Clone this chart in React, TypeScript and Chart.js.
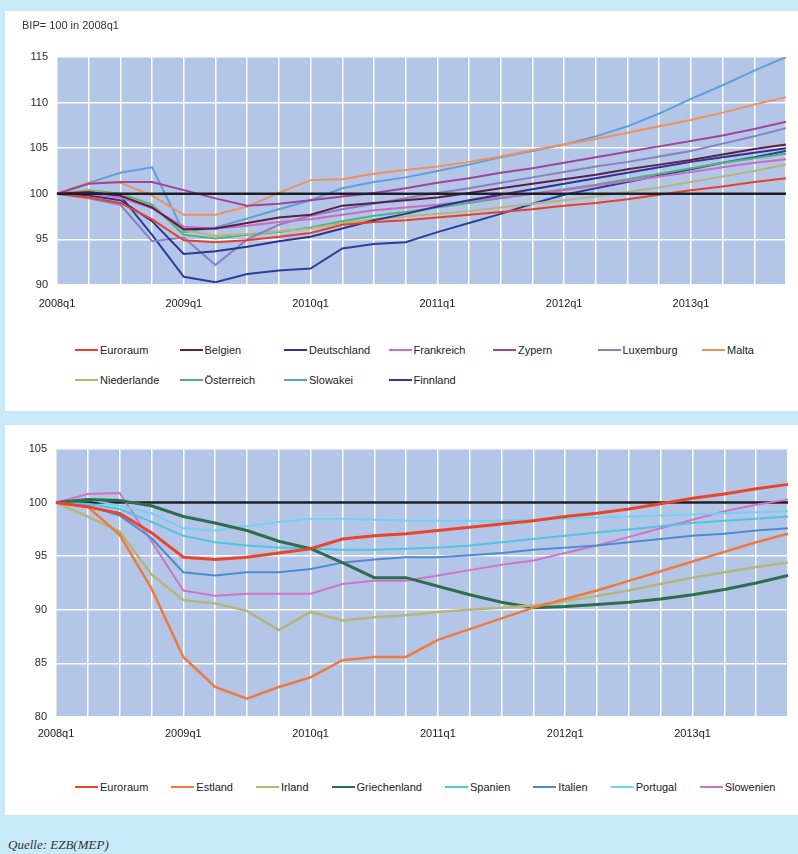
import React, { useEffect, useRef } from 'react';
import { Chart, registerables } from 'chart.js';

Chart.register(...registerables);
Chart.defaults.font.family = '"Liberation Sans", Arial, sans-serif';

const quarters = [
  '2008q1', '2008q2', '2008q3', '2008q4',
  '2009q1', '2009q2', '2009q3', '2009q4',
  '2010q1', '2010q2', '2010q3', '2010q4',
  '2011q1', '2011q2', '2011q3', '2011q4',
  '2012q1', '2012q2', '2012q3', '2012q4',
  '2013q1', '2013q2', '2013q3', '2013q4',
];

const topTitle = 'BIP= 100 in 2008q1';
const sourceNote = 'Quelle: EZB(MEP)';

// ---- upper panel series ----
const euroraum = [100, 99.6, 99.0, 97.2, 94.9, 94.7, 94.9, 95.3, 95.7, 96.6, 96.9, 97.1, 97.4, 97.7, 98.0, 98.3, 98.7, 99.0, 99.4, 99.9, 100.4, 100.8, 101.3, 101.7];
const belgien = [100, 100.2, 99.8, 98.5, 96.1, 96.2, 96.8, 97.4, 97.7, 98.7, 99.0, 99.3, 99.6, 100.1, 100.6, 101.1, 101.6, 102.1, 102.7, 103.2, 103.7, 104.3, 104.9, 105.4];
const deutschland = [100, 99.8, 99.3, 97.0, 93.4, 93.7, 94.2, 94.8, 95.3, 96.2, 97.1, 97.8, 98.6, 99.3, 99.9, 100.5, 101.1, 101.7, 102.3, 102.9, 103.5, 104.0, 104.5, 105.0];
const frankreich = [100, 100.0, 99.6, 98.4, 96.4, 96.2, 96.5, 96.9, 97.2, 97.7, 98.2, 98.5, 98.8, 99.2, 99.6, 100.0, 100.4, 100.9, 101.4, 101.9, 102.4, 102.9, 103.4, 103.8];
const zypern = [100, 101.1, 101.3, 101.3, 100.4, 99.5, 98.7, 98.9, 99.3, 99.7, 100.1, 100.6, 101.2, 101.7, 102.3, 102.8, 103.4, 104.0, 104.6, 105.2, 105.8, 106.4, 107.1, 107.9];
const luxemburg = [100, 99.5, 98.8, 94.8, 95.2, 92.2, 95.0, 96.6, 97.6, 98.3, 98.9, 99.5, 100.1, 100.6, 101.2, 101.8, 102.4, 103.0, 103.5, 104.1, 104.7, 105.5, 106.3, 107.2];
const malta = [100, 101.2, 101.2, 99.8, 97.7, 97.7, 98.6, 100.1, 101.5, 101.6, 102.2, 102.6, 103.0, 103.5, 104.1, 104.8, 105.4, 106.0, 106.7, 107.4, 108.1, 108.9, 109.8, 110.6];
const niederlande = [100, 100.3, 99.9, 98.6, 96.0, 95.4, 95.6, 95.9, 96.2, 96.8, 97.2, 97.5, 97.8, 98.1, 98.5, 98.9, 99.3, 99.7, 100.2, 100.7, 101.3, 101.9, 102.5, 103.2];
const oesterreich = [100, 100.4, 100.0, 98.8, 95.5, 95.1, 95.5, 95.8, 96.3, 97.0, 97.6, 98.0, 98.5, 99.0, 99.5, 100.0, 100.5, 101.0, 101.6, 102.2, 102.8, 103.4, 103.9, 104.4];
const slowakei = [100, 101.2, 102.3, 102.9, 95.8, 96.3, 97.3, 98.3, 99.3, 100.6, 101.3, 101.8, 102.5, 103.2, 104.0, 104.7, 105.4, 106.3, 107.4, 108.8, 110.4, 111.9, 113.5, 115.0];
const finnland = [100, 100.1, 99.8, 95.5, 90.9, 90.3, 91.2, 91.6, 91.8, 94.0, 94.5, 94.7, 95.8, 96.8, 97.8, 98.9, 99.9, 100.6, 101.3, 102.0, 102.7, 103.4, 104.0, 104.7];

// ---- lower panel series ----
const estland = [100, 99.6, 97.0, 92.0, 85.6, 82.8, 81.7, 82.8, 83.7, 85.3, 85.6, 85.6, 87.2, 88.2, 89.2, 90.2, 91.0, 91.8, 92.7, 93.6, 94.5, 95.4, 96.3, 97.1];
const irland = [100, 98.7, 97.3, 93.3, 90.9, 90.6, 89.9, 88.1, 89.8, 89.0, 89.3, 89.5, 89.8, 90.0, 90.2, 90.4, 90.8, 91.3, 91.8, 92.4, 93.0, 93.5, 94.0, 94.4];
const griechenland = [100, 100.3, 100.2, 99.7, 98.7, 98.1, 97.4, 96.4, 95.7, 94.4, 93.0, 93.0, 92.2, 91.4, 90.7, 90.2, 90.3, 90.5, 90.7, 91.0, 91.4, 91.9, 92.5, 93.2];
const spanien = [100, 99.9, 99.4, 98.2, 96.9, 96.3, 96.0, 95.8, 95.7, 95.6, 95.6, 95.7, 95.8, 96.0, 96.3, 96.6, 96.9, 97.2, 97.5, 97.8, 98.1, 98.3, 98.5, 98.7];
const italien = [100, 99.7, 98.8, 96.7, 93.5, 93.2, 93.5, 93.5, 93.8, 94.4, 94.7, 94.9, 94.9, 95.1, 95.3, 95.6, 95.8, 96.0, 96.3, 96.6, 96.9, 97.1, 97.4, 97.6];
const portugal = [100, 100.3, 99.7, 99.0, 97.6, 97.4, 97.8, 98.2, 98.5, 98.5, 98.4, 98.3, 98.3, 98.3, 98.3, 98.4, 98.5, 98.6, 98.7, 98.8, 98.9, 99.0, 99.1, 99.2];
const slowenien = [100, 100.8, 100.9, 96.4, 91.8, 91.3, 91.5, 91.5, 91.5, 92.4, 92.7, 92.7, 93.2, 93.7, 94.2, 94.6, 95.3, 96.0, 96.8, 97.6, 98.4, 99.2, 99.8, 100.3];

type Series = { name: string; data: number[]; color: string; width?: number };

const topSeries: Series[] = [
  { name: 'Euroraum', data: euroraum, color: '#e8402a' },
  { name: 'Belgien', data: belgien, color: '#5c1f48' },
  { name: 'Deutschland', data: deutschland, color: '#2f3290' },
  { name: 'Frankreich', data: frankreich, color: '#c86cc4' },
  { name: 'Zypern', data: zypern, color: '#a0459c' },
  { name: 'Luxemburg', data: luxemburg, color: '#8a7fc4' },
  { name: 'Malta', data: malta, color: '#f0915a' },
  { name: 'Niederlande', data: niederlande, color: '#b8b47a' },
  { name: 'Österreich', data: oesterreich, color: '#4cb47c' },
  { name: 'Slowakei', data: slowakei, color: '#5f9fd8' },
  { name: 'Finnland', data: finnland, color: '#2c3f98' },
];

const bottomSeries: Series[] = [
  { name: 'Euroraum', data: euroraum, color: '#e8452a', width: 3 },
  { name: 'Estland', data: estland, color: '#ee7a3e', width: 2.5 },
  { name: 'Irland', data: irland, color: '#b6b67a', width: 2.5 },
  { name: 'Griechenland', data: griechenland, color: '#2f6e4c', width: 3 },
  { name: 'Spanien', data: spanien, color: '#4ec4e0' },
  { name: 'Italien', data: italien, color: '#4d8bd0' },
  { name: 'Portugal', data: portugal, color: '#74d2ee' },
  { name: 'Slowenien', data: slowenien, color: '#d074c6' },
];

const plotBg = {
  id: 'plotBg',
  beforeDraw(chart: any, _args: any, opts: any) {
    const { ctx, chartArea } = chart;
    ctx.save();
    ctx.fillStyle = opts.color || '#b4c6e7';
    ctx.fillRect(chartArea.left, chartArea.top, chartArea.right - chartArea.left, chartArea.bottom - chartArea.top);
    ctx.restore();
  },
};

function drawRef(chart: any, opts: any) {
  const { ctx, chartArea } = chart;
  const y = chart.scales.y.getPixelForValue(opts.value);
  ctx.save();
  ctx.strokeStyle = opts.color;
  ctx.lineWidth = opts.width;
  ctx.beginPath();
  ctx.moveTo(chartArea.left, y);
  ctx.lineTo(chartArea.right, y);
  ctx.stroke();
  ctx.restore();
}

const refLine = {
  id: 'refLine',
  beforeDatasetsDraw(chart: any, _a: any, opts: any) {
    if (!opts.above) drawRef(chart, opts);
  },
  afterDatasetsDraw(chart: any, _a: any, opts: any) {
    if (opts.above) drawRef(chart, opts);
  },
};

type ChartProps = {
  series: Series[];
  yMin: number;
  yMax: number;
  width: number;
  height: number;
  yAxisWidth: number;
  padding: { top: number; right: number; bottom: number; left: number };
  labelPad: number;
  refAbove: boolean;
};

function LineChart(props: ChartProps) {
  const ref = useRef<HTMLCanvasElement>(null);
  useEffect(() => {
    const { series, yMin, yMax, yAxisWidth, padding, labelPad, refAbove } = props;
    const chart = new Chart(ref.current as HTMLCanvasElement, {
      type: 'line',
      data: {
        labels: quarters,
        datasets: series.map((s) => ({
          label: s.name,
          data: s.data,
          borderColor: s.color,
          backgroundColor: s.color,
          borderWidth: s.width ?? 2,
          pointRadius: 0,
          tension: 0,
          fill: false,
        })),
      },
      options: {
        responsive: false,
        animation: false,
        layout: { padding },
        plugins: {
          legend: { display: false },
          tooltip: { enabled: false },
          plotBg: { color: '#b4c6e7' },
          refLine: { value: 100, color: '#1e1e24', width: 2.5, above: refAbove },
        } as any,
        scales: {
          x: {
            grid: { color: 'rgba(255,255,255,0.95)', lineWidth: 1.5, drawTicks: false },
            border: { display: false },
            ticks: {
              autoSkip: false,
              maxRotation: 0,
              minRotation: 0,
              padding: labelPad,
              color: '#1a1a1a',
              font: { size: 11 },
              callback: (_v: any, i: number) => (i % 4 === 0 ? quarters[i] : ''),
            },
            afterFit: (s: any) => {
              s.height = 26;
            },
          },
          y: {
            min: yMin,
            max: yMax,
            grid: { color: 'rgba(255,255,255,0.95)', lineWidth: 1.5, drawTicks: false },
            border: { display: false },
            ticks: { stepSize: 5, padding: 9, color: '#2a2a2a', font: { size: 11 } },
            afterFit: (s: any) => {
              s.width = yAxisWidth;
            },
          },
        },
      },
      plugins: [plotBg, refLine],
    });
    return () => chart.destroy();
  }, []);
  return <canvas ref={ref} width={props.width} height={props.height} style={{ display: 'block' }} />;
}

function LegendItem({ s }: { s: Series }) {
  return (
    <div style={{ display: 'flex', alignItems: 'center', height: 14, whiteSpace: 'nowrap' }}>
      <span style={{ display: 'inline-block', width: 23, height: 2, background: s.color }} />
      <span style={{ marginLeft: 2, fontSize: 11, color: '#222', lineHeight: '14px' }}>{s.name}</span>
    </div>
  );
}

const font = '"Liberation Sans", Arial, sans-serif';

export default function App() {
  return (
    <div style={{ position: 'absolute', left: 0, top: 0, width: 798, height: 854, background: '#c7e9f8', overflow: 'hidden', fontFamily: font }}>
      {/* upper panel */}
      <div style={{ position: 'absolute', left: 5, top: 11, width: 793, height: 400, background: '#ffffff' }}>
        <LineChart
          series={topSeries}
          yMin={90}
          yMax={115}
          width={793}
          height={300}
          yAxisWidth={52}
          padding={{ top: 46, right: 4, bottom: 0, left: 0 }}
          labelPad={12}
          refAbove={true}
        />
        <div style={{ position: 'absolute', left: 17, top: 7, fontSize: 11, lineHeight: '14px', color: '#333' }}>{topTitle}</div>
        <div
          style={{
            position: 'absolute',
            left: 70,
            top: 332,
            display: 'grid',
            gridTemplateColumns: 'repeat(7, 104.5px)',
            gridAutoRows: '14px',
            rowGap: 16,
          }}
        >
          {topSeries.map((s) => (
            <LegendItem key={s.name} s={s} />
          ))}
        </div>
      </div>

      {/* lower panel */}
      <div style={{ position: 'absolute', left: 5, top: 425, width: 793, height: 390, background: '#ffffff' }}>
        <LineChart
          series={bottomSeries}
          yMin={80}
          yMax={105}
          width={793}
          height={318}
          yAxisWidth={51}
          padding={{ top: 24, right: 8, bottom: 0, left: 0 }}
          labelPad={10}
          refAbove={false}
        />
        <div style={{ position: 'absolute', left: 70, top: 355, display: 'flex', gap: 23 }}>
          {bottomSeries.map((s) => (
            <LegendItem key={s.name} s={s} />
          ))}
        </div>
      </div>

      <div
        style={{
          position: 'absolute',
          left: 8,
          top: 837,
          fontFamily: '"Liberation Serif", "Times New Roman", serif',
          fontStyle: 'italic',
          fontSize: 13,
          lineHeight: '16px',
          color: '#333',
        }}
      >
        {sourceNote}
      </div>
    </div>
  );
}
